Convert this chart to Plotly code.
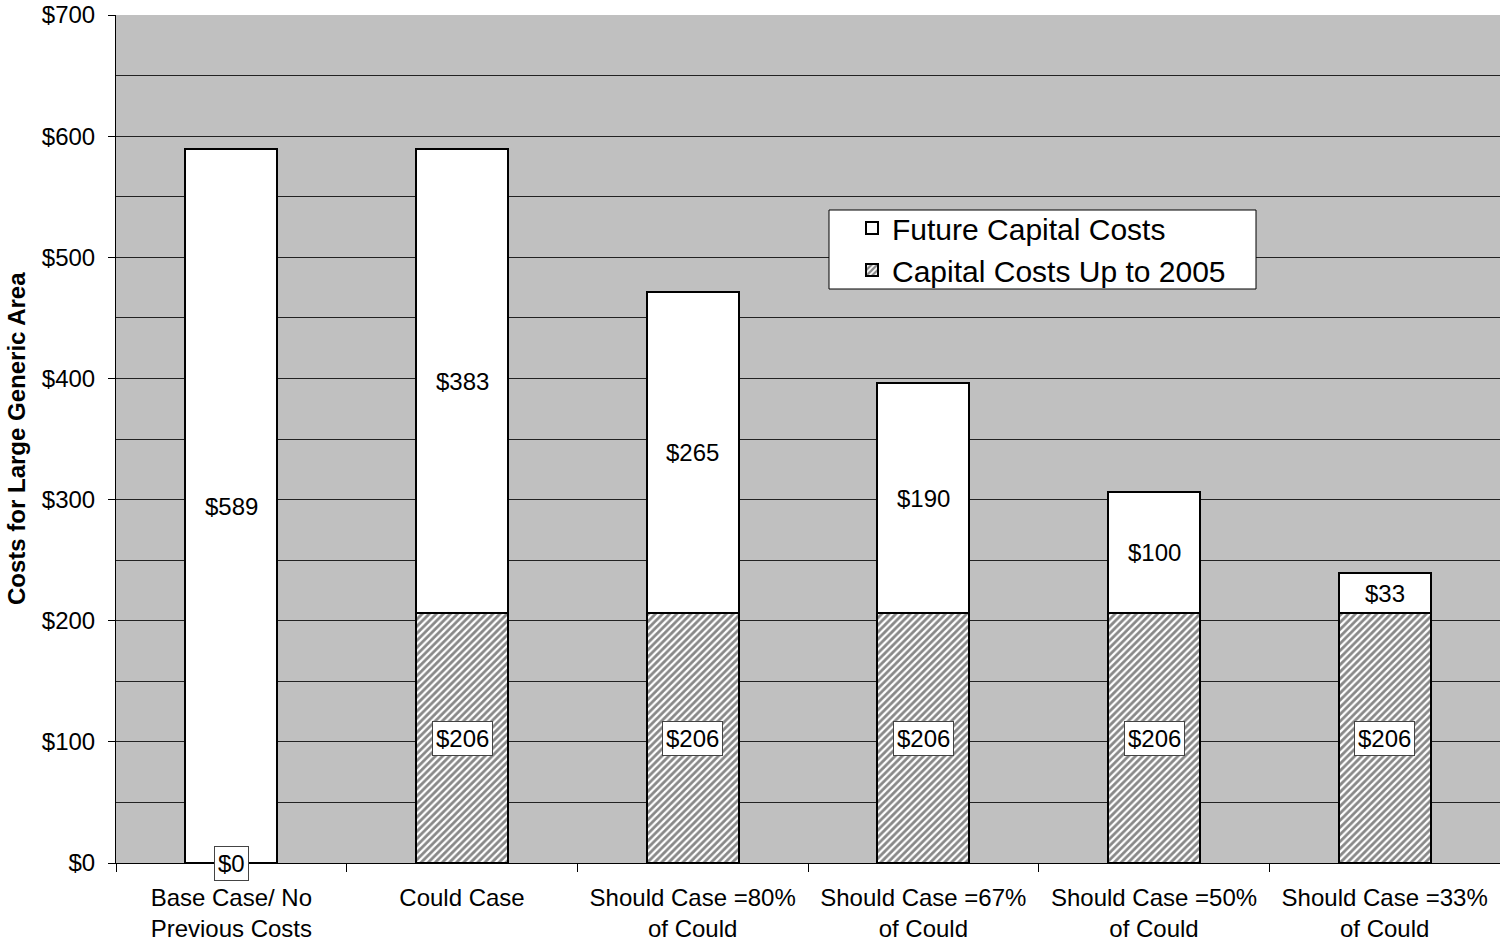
import plotly.graph_objects as go

categories = ["Base Case/ No<br>Previous Costs", "Could Case", "Should Case =80%<br>of Could",
              "Should Case =67%<br>of Could", "Should Case =50%<br>of Could", "Should Case =33%<br>of Could"]
capital_up_to_2005 = [0, 206, 206, 206, 206, 206]
future_capital = [589, 383, 265, 190, 100, 33]

FONT = "Liberation Sans, Arial, sans-serif"
W, H = 1500, 942
L, T, B = 116, 15, 79
PW, PH = W - L, H - T - B

fig = go.Figure()
fig.add_trace(go.Bar(
    x=categories, y=capital_up_to_2005, name="Capital Costs Up to 2005",
    marker=dict(color="white", line=dict(color="black", width=2),
                pattern=dict(shape="/", fgcolor="#111111", bgcolor="white", size=5, solidity=0.55)),
    width=0.4,
))
fig.add_trace(go.Bar(
    x=categories, y=future_capital, name="Future Capital Costs",
    marker=dict(color="white", line=dict(color="black", width=2)),
    width=0.4,
))

annotations = []
for c, cap, fut in zip(categories, capital_up_to_2005, future_capital):
    annotations.append(dict(x=c, y=cap / 2, text=f"${cap}", showarrow=False,
                            font=dict(size=24, color="black", family=FONT),
                            bgcolor="white", bordercolor="#444444", borderwidth=1, borderpad=3))
    annotations.append(dict(x=c, y=cap + fut / 2, text=f"${fut}", showarrow=False,
                            font=dict(size=24, color="black", family=FONT)))

# y-axis title
annotations.append(dict(xref="paper", yref="paper", x=(16 - L) / PW, y=0.5,
                        xanchor="center", yanchor="middle",
                        text="<b>Costs for Large Generic Area</b>", textangle=-90,
                        showarrow=False, font=dict(size=24, family=FONT, color="black")))

# legend frame
legend_box = dict(type="rect", xref="paper", yref="paper",
                  x0=(829 - L) / PW, x1=(1256 - L) / PW,
                  y0=1 - (289 - T) / PH, y1=1 - (210 - T) / PH,
                  fillcolor="white", line=dict(color="black", width=1), layer="above")

fig.update_layout(
    width=W, height=H,
    margin=dict(l=L, r=0, t=T, b=B),
    barmode="stack",
    bargap=0.6,
    plot_bgcolor="#C0C0C0",
    paper_bgcolor="white",
    font=dict(family=FONT, size=24, color="black"),
    showlegend=True,
    shapes=[legend_box],
    legend=dict(x=(852 - L) / PW, y=1 - (202 - T) / PH, xanchor="left", yanchor="top",
                bgcolor="rgba(0,0,0,0)", borderwidth=0,
                font=dict(size=30, family=FONT), traceorder="reversed",
                itemwidth=30),
    annotations=annotations,
    xaxis=dict(showline=True, linecolor="black", linewidth=1, ticks="outside",
               tickson="boundaries", ticklen=8, tickcolor="black",
               tickfont=dict(size=24), showgrid=False, automargin=False,
               ticklabelstandoff=13),
    yaxis=dict(range=[0, 700], dtick=100, tickprefix="$", showline=True, linecolor="black",
               linewidth=1, ticks="outside", ticklen=7, tickcolor="black",
               showgrid=True, gridcolor="#222222", gridwidth=1,
               minor=dict(dtick=50, showgrid=True, gridcolor="#222222", gridwidth=1),
               tickfont=dict(size=24), automargin=False, ticklabelstandoff=8,
               ticklabeloverflow="allow",
               zeroline=False),
)

fig.write_html("out.html", config={"displayModeBar": False},
               post_script="document.body.style.margin='0';")
